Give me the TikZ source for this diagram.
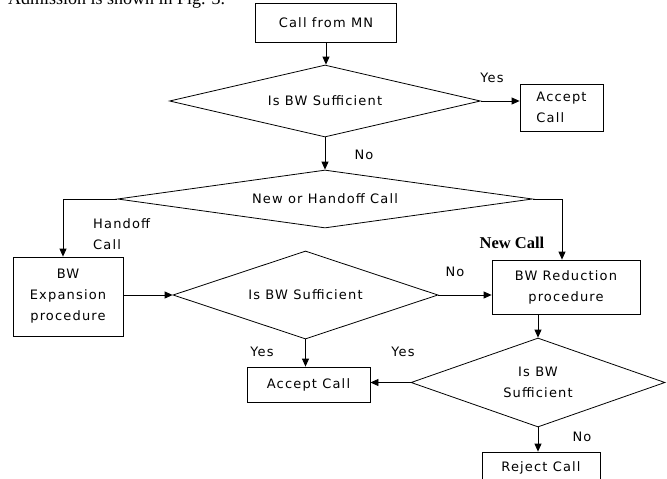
\documentclass[tikz,border=0pt]{standalone}
\usepackage{fontspec}
\usetikzlibrary{shapes.geometric,arrows.meta}
\newfontfamily\flowfont[LetterSpace=9]{DejaVu Sans}
\newfontfamily\serifnote{Liberation Serif}

\begin{document}
\begin{tikzpicture}[x=1pt,y=-1pt,
  txt/.style={font={\flowfont\fontsize{13}{21}\selectfont}},
  box/.style={txt,draw,rectangle,inner sep=0pt,align=center,line width=0.8pt},
  dec/.style={txt,draw,diamond,inner sep=0pt,align=center,line width=0.8pt},
  lbl/.style={txt,inner sep=0pt},
  arr/.style={line width=0.8pt,-{Triangle[length=8pt,width=7pt]}}]
\useasboundingbox (0,0) rectangle (667,479);
\fill[white] (0,0) rectangle (667,479);
\clip (0,0) rectangle (667,479);

% running text of the page above the chart
\node[anchor=base west,inner sep=0pt,font={\serifnote\fontsize{18}{20}\selectfont}] (caption) at (8,5) {Admission is shown in Fig. 3.};

% boxes
\node[box,minimum width=141pt,minimum height=39pt] (start) at (326,22.5) {Call from MN};
\node[box,minimum width=83pt,minimum height=47pt,align=left] (acc1) at (561.5,107.5) {Accept\\Call};
\node[box,minimum width=110pt,minimum height=79pt] (exp) at (68,296.5) {BW\\Expansion\\procedure};
\node[box,minimum width=148pt,minimum height=54pt] (red) at (566,287) {BW Reduction\\procedure};
\node[box,minimum width=123pt,minimum height=35pt] (acc2) at (308.5,384.5) {Accept Call};
\node[box,minimum width=118pt,minimum height=32pt] (rej) at (541,468) {Reject Call};

% decisions
\node[dec,minimum width=311pt,minimum height=72pt,aspect=4.32] (d1) at (325,101) {Is BW Sufficient};
\node[dec,minimum width=415pt,minimum height=58pt,aspect=7.16] (d2) at (325,199) {New or Handoff Call};
\node[dec,minimum width=265pt,minimum height=88pt,aspect=3.0] (d3) at (305.5,295) {Is BW Sufficient};
\node[dec,minimum width=254pt,minimum height=89pt,aspect=2.85] (d4) at (538,382.5) {Is BW\\Sufficient};

% bends of the branch lines
\coordinate (hl) at (63,199);
\coordinate (hr) at (562,199);

% connectors
\draw[arr] (start.south) -- (start.south |- d1.north);
\draw[arr] (d1.east) -- (d1.east -| acc1.west);
\draw[arr] (d1.south) -- (d2.north);
\draw[arr] (d2.west) -- (hl) -- (hl |- exp.north);
\draw[arr] (d2.east) -- (hr) -- (hr |- red.north);
\draw[arr] (exp.east |- d3.west) -- (d3.west);
\draw[arr] (d3.east) -- (d3.east -| red.west);
\draw[arr] (d4.north |- red.south) -- (d4.north);
\draw[arr] (d3.south) -- (d3.south |- acc2.north);
\draw[arr] (d4.west) -- (d4.west -| acc2.east);
\draw[arr] (d4.south) -- (d4.south |- rej.north);

% branch labels
\node[lbl] (yes1) at (492,78) {Yes};
\node[lbl] (no1) at (364,155) {No};
\node[lbl,anchor=west,align=left] (handoff) at (93,234.5) {Handoff\\Call};
\node[inner sep=0pt,font={\serifnote\bfseries\fontsize{16.5}{20}\selectfont}] (newcall) at (512,243) {New Call};
\node[lbl] (no2) at (455,272) {No};
\node[lbl] (yes2) at (262,352) {Yes};
\node[lbl] (yes3) at (403,352) {Yes};
\node[lbl] (no3) at (582,437) {No};
\end{tikzpicture}
\end{document}
